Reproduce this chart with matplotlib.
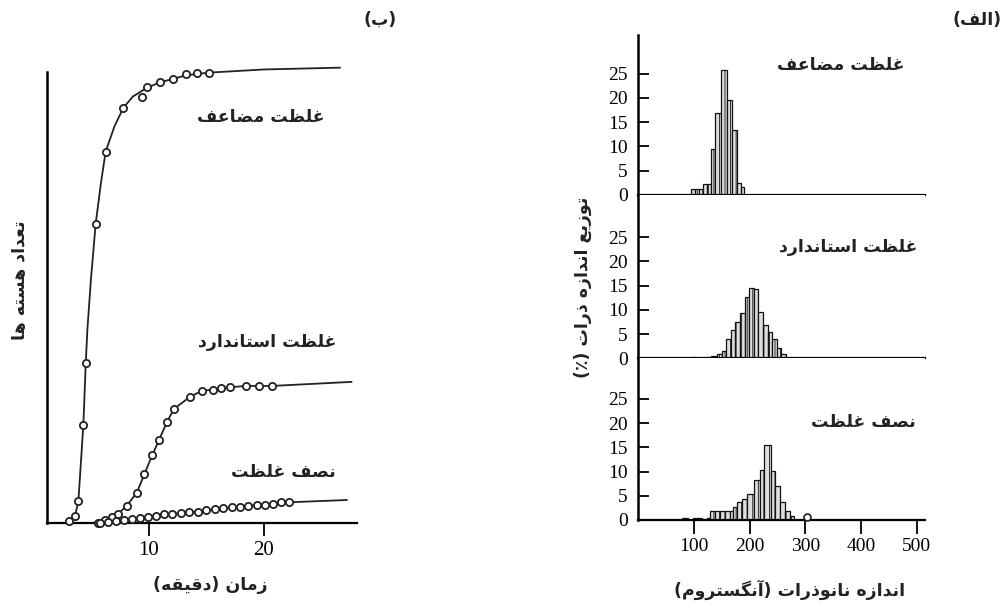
import numpy as np
import matplotlib
matplotlib.use("Agg")
import matplotlib.pyplot as plt

W, H = 1005, 601

# ---------------- data: panel (b) nucleation curves ----------------
double_t = [3.04, 3.57, 3.86, 4.29, 4.50, 5.36, 6.23, 7.77, 9.36, 9.80, 10.96, 12.1, 13.2, 14.2, 15.2]
double_v = [0.5, 1.6, 4.9, 21.7, 35.4, 66.3, 82.4, 92.1, 94.5, 96.7, 97.9, 98.5, 99.5, 99.9, 99.9]
double_line_t = [2.9, 3.04, 3.57, 3.86, 4.29, 4.50, 4.64, 4.95, 5.36, 5.8, 6.23, 7.0, 7.77, 8.6, 9.8, 11.0, 12.1, 13.2, 15.2, 20.0, 26.6]
double_line_v = [0.0, 0.5, 1.6, 4.9, 21.7, 35.4, 42.8, 54.0, 66.3, 75.0, 82.4, 88.0, 92.1, 94.6, 96.5, 97.8, 98.5, 99.3, 99.9, 100.6, 101.0]

std_t = [5.59, 6.17, 6.75, 7.33, 8.06, 8.93, 9.60, 10.29, 10.87, 11.54, 12.17, 13.57, 14.58, 15.59, 16.3, 17.04, 18.4, 19.6, 20.67]
std_v = [0.1, 0.7, 1.3, 2.1, 3.8, 6.7, 10.8, 15.1, 18.4, 22.3, 25.3, 28.0, 29.3, 29.6, 29.9, 30.1, 30.4, 30.4, 30.4]
std_line_t = [5.3] + std_t + [27.6]
std_line_v = [0.0] + std_v + [31.3]

half_t = [5.74, 6.47, 7.13, 7.82, 8.5, 9.2, 9.94, 10.6, 11.3, 12.0, 12.8, 13.5,
          14.3, 15.0, 15.7, 16.4, 17.2, 17.9, 18.6, 19.4, 20.1, 20.8, 21.5, 22.2]
half_v = [0.0, 0.3, 0.5, 0.7, 0.8, 1.0, 1.4, 1.6, 1.9, 2.0, 2.2, 2.4,
          2.5, 2.8, 3.0, 3.3, 3.5, 3.6, 3.8, 4.0, 4.1, 4.3, 4.6, 4.6]
half_line_t = [5.5] + half_t + [27.2]
half_line_v = [0.0] + half_v + [5.1]

time_ticks = [10, 20]

# ---------------- data: panel (a) size histograms ----------------
top_edges = [94, 101, 108, 115, 122, 130, 138, 148.5, 158, 167.5, 176.5, 184, 190]
top_heights = [1.2, 1.2, 1.2, 2.2, 2.2, 9.4, 17.0, 25.7, 19.6, 13.3, 2.4, 1.6]

mid_edges = [94, 101, 121, 130, 140, 149, 157.3, 165.6, 173.9, 182.2, 190.5, 198.8,
             207.1, 215.4, 223.7, 232.0, 240.3, 248.6, 256.9, 265.2]
mid_heights = [0.3, 0.0, 0.3, 0.5, 0.8, 1.6, 3.9, 5.9, 7.5, 9.4, 12.6, 14.5,
               14.2, 9.5, 6.9, 5.4, 4.0, 2.2, 0.9]

bot_edges = [77, 89, 98, 113, 122, 128, 137, 146, 155, 164, 170, 177, 185, 195,
             207, 218, 225.5, 237.5, 246, 254.5, 263, 272.5, 279]
bot_heights = [0.5, 0.0, 0.5, 0.0, 0.5, 1.9, 1.9, 1.9, 1.9, 1.9, 2.6, 3.7, 4.3,
               5.4, 8.3, 10.3, 15.4, 10.2, 7.0, 3.7, 1.9, 0.9]
bot_outlier = (302, 0.7)

size_ticks = [100, 200, 300, 400, 500]
pct_ticks = [0, 5, 10, 15, 20, 25]

# ---------------- Persian text shaping ----------------
FORMS = {
    'ا': ('\uFE8D', '\uFE8E', None, None),
    'آ': ('\uFE81', '\uFE82', None, None),
    'ب': ('\uFE8F', '\uFE90', '\uFE91', '\uFE92'),
    'ت': ('\uFE95', '\uFE96', '\uFE97', '\uFE98'),
    'د': ('\uFEA9', '\uFEAA', None, None),
    'ذ': ('\uFEAB', '\uFEAC', None, None),
    'ر': ('\uFEAD', '\uFEAE', None, None),
    'ز': ('\uFEAF', '\uFEB0', None, None),
    'س': ('\uFEB1', '\uFEB2', '\uFEB3', '\uFEB4'),
    'ص': ('\uFEB9', '\uFEBA', '\uFEBB', '\uFEBC'),
    'ض': ('\uFEBD', '\uFEBE', '\uFEBF', '\uFEC0'),
    'ظ': ('\uFEC5', '\uFEC6', '\uFEC7', '\uFEC8'),
    'ع': ('\uFEC9', '\uFECA', '\uFECB', '\uFECC'),
    'غ': ('\uFECD', '\uFECE', '\uFECF', '\uFED0'),
    'ف': ('\uFED1', '\uFED2', '\uFED3', '\uFED4'),
    'ق': ('\uFED5', '\uFED6', '\uFED7', '\uFED8'),
    'ل': ('\uFEDD', '\uFEDE', '\uFEDF', '\uFEE0'),
    'م': ('\uFEE1', '\uFEE2', '\uFEE3', '\uFEE4'),
    'ن': ('\uFEE5', '\uFEE6', '\uFEE7', '\uFEE8'),
    'ه': ('\uFEE9', '\uFEEA', '\uFEEB', '\uFEEC'),
    'و': ('\uFEED', '\uFEEE', None, None),
    'ی': ('\uFBFC', '\uFBFD', '\uFBFE', '\uFBFF'),
    'گ': ('\uFB92', '\uFB93', '\uFB94', '\uFB95'),
}


def fa(s):
    out = []
    n = len(s)
    for i, c in enumerate(s):
        if c not in FORMS:
            out.append(c)
            continue
        prev = s[i - 1] if i > 0 else None
        nxt = s[i + 1] if i < n - 1 else None
        jp = prev in FORMS and FORMS[prev][2] is not None
        jn = FORMS[c][2] is not None and nxt in FORMS
        iso, fin, ini, med = FORMS[c]
        if jp and jn:
            out.append(med)
        elif jp:
            out.append(fin)
        elif jn:
            out.append(ini)
        else:
            out.append(iso)
    vis = ''.join(reversed(out))
    return vis.translate(str.maketrans('()', ')('))


FA_FONT = ['DejaVu Sans', 'Noto Sans']
NUM_FONT = 'Liberation Serif'

plt.rcParams['hatch.color'] = '#666666'
plt.rcParams['hatch.linewidth'] = 0.6

fig = plt.figure(figsize=(W / 100, H / 100), dpi=100)


def rect(x0, y_top, x1, y_bot):
    return [x0 / W, 1 - y_bot / H, (x1 - x0) / W, (y_bot - y_top) / H]


def ftext(x, y, s, **kw):
    fig.text(x / W, 1 - y / H, s, ha='center', va='center', **kw)


# ---------------- panel (b) ----------------
axb = fig.add_axes(rect(47, 60, 357, 523))
axb.set_xlim(1.13, 28.09)
axb.set_ylim(0, 102.7)
for sp in ['top', 'right']:
    axb.spines[sp].set_visible(False)
axb.spines['left'].set_linewidth(1.8)
axb.spines['bottom'].set_linewidth(1.6)
axb.spines['left'].set_bounds(0, 100)
axb.set_yticks([])
axb.set_xticks(time_ticks)
axb.tick_params(axis='x', direction='out', length=9, width=1.3, pad=4, labelsize=15)
for lab in axb.get_xticklabels():
    lab.set_fontfamily(NUM_FONT)

mk = dict(marker='o', ms=5.2, mfc='white', mec='#222222', mew=1.3, ls='none', zorder=3)
for lt, lv, mt, mv in [(double_line_t, double_line_v, double_t, double_v),
                       (std_line_t, std_line_v, std_t, std_v),
                       (half_line_t, half_line_v, half_t, half_v)]:
    axb.plot(lt, lv, color='#222222', lw=1.3, zorder=2, clip_on=False)
    axb.plot(mt, mv, clip_on=False, **mk)

# ---------------- panel (a) ----------------
rows = [(35, 195, top_edges, top_heights), (195, 358.3, mid_edges, mid_heights),
        (358.3, 520, bot_edges, bot_heights)]
px_per_unit = 4.85
for i, (yt, yb, edges, heights) in enumerate(rows):
    ax = fig.add_axes(rect(637.5, yt, 925, yb))
    ax.set_xlim(-2.2, 515.3)
    ax.set_ylim(0, (yb - yt) / px_per_unit)
    for sp in ['top', 'right']:
        ax.spines[sp].set_visible(False)
    ax.spines['left'].set_linewidth(1.8)
    ax.spines['bottom'].set_linewidth(1.6)
    e = np.array(edges, dtype=float)
    h = np.array(heights, dtype=float)
    keep = h > 0
    ax.bar(e[:-1][keep], h[keep], width=np.diff(e)[keep], align='edge',
           facecolor='#dedede', edgecolor='#111111', linewidth=0.9,
           hatch='|||', zorder=2)
    ax.set_yticks(pct_ticks)
    ax.tick_params(axis='y', direction='in', length=8, width=1.3, pad=7, labelsize=14)
    for lab in ax.get_yticklabels():
        lab.set_fontfamily(NUM_FONT)
    if i < 2:
        ax.set_xticks([])
    else:
        ax.set_xticks(size_ticks)
        ax.tick_params(axis='x', direction='out', length=10, width=1.3, pad=3, labelsize=14)
        for lab in ax.get_xticklabels():
            lab.set_fontfamily(NUM_FONT)
        ax.plot([bot_outlier[0]], [bot_outlier[1]], marker='o', ms=5, mfc='white',
                mec='#222222', mew=1.2, ls='none', clip_on=False, zorder=3)

# ---------------- texts ----------------
lbl = dict(family=FA_FONT, fontsize=12.5, fontweight='bold', color='#222222')
ftext(261, 117, fa('غلظت مضاعف'), **lbl)
ftext(267, 342, fa('غلظت استاندارد'), **lbl)
ftext(283, 472, fa('نصف غلظت'), **lbl)
ftext(841, 65, fa('غلظت مضاعف'), **lbl)
ftext(848, 247, fa('غلظت استاندارد'), **lbl)
ftext(863, 422, fa('نصف غلظت'), **lbl)

ax_lbl = dict(family=FA_FONT, fontsize=12.5, fontweight='bold', color='#222222')
ftext(210, 585, fa('زمان (دقیقه)'), **ax_lbl)
ftext(20, 280, fa('تعداد هسته ها'), rotation=90, **ax_lbl)
ftext(790, 590, fa('اندازه نانوذرات (آنگستروم)'), **ax_lbl)
ftext(583, 287, fa('توزیع اندازه ذرات (٪)'), rotation=90, **ax_lbl)

ftext(380, 20, fa('(ب)'), **ax_lbl)
ftext(977, 20, fa('(الف)'), **ax_lbl)

fig.savefig('out.png', dpi=100, facecolor='white')
